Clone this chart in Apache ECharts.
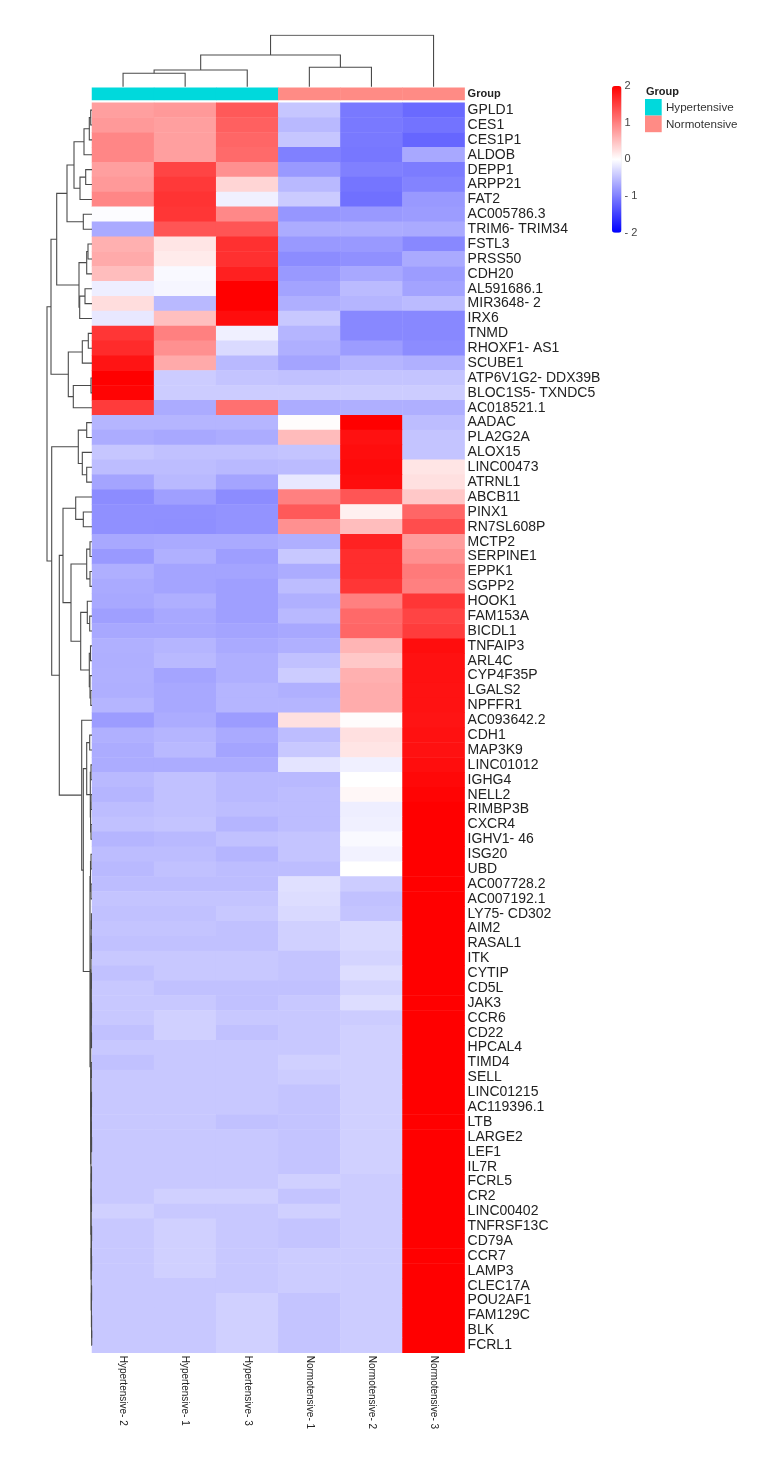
<!DOCTYPE html>
<html>
<head>
<meta charset="utf-8">
<title>Heatmap</title>
<style>
  html, body { margin: 0; padding: 0; background: #fff; }
  #chart { width: 775px; height: 1464px; }
</style>
<script src="https://cdn.jsdelivr.net/npm/echarts@6/dist/echarts.min.js"></script>
</head>
<body>
<div id="chart"></div>
<script>
const sampleLabels = ['Hypertensive- 2', 'Hypertensive- 1', 'Hypertensive- 3', 'Normotensive- 1', 'Normotensive- 2', 'Normotensive- 3']
const sampleGroups = [0, 0, 0, 1, 1, 1]
const groupNames = ['Hypertensive', 'Normotensive']
const groupColors = ['#00d9dc', '#ff8b85']
const scaleTicks = [-2, -1, 0, 1, 2]

const geneLabels = [
    'GPLD1', 'CES1', 'CES1P1', 'ALDOB', 'DEPP1', 'ARPP21', 'FAT2', 'AC005786.3', 'TRIM6- TRIM34', 'FSTL3',
    'PRSS50', 'CDH20', 'AL591686.1', 'MIR3648- 2', 'IRX6', 'TNMD', 'RHOXF1- AS1', 'SCUBE1', 'ATP6V1G2- DDX39B', 'BLOC1S5- TXNDC5',
    'AC018521.1', 'AADAC', 'PLA2G2A', 'ALOX15', 'LINC00473', 'ATRNL1', 'ABCB11', 'PINX1', 'RN7SL608P', 'MCTP2',
    'SERPINE1', 'EPPK1', 'SGPP2', 'HOOK1', 'FAM153A', 'BICDL1', 'TNFAIP3', 'ARL4C', 'CYP4F35P', 'LGALS2',
    'NPFFR1', 'AC093642.2', 'CDH1', 'MAP3K9', 'LINC01012', 'IGHG4', 'NELL2', 'RIMBP3B', 'CXCR4', 'IGHV1- 46',
    'ISG20', 'UBD', 'AC007728.2', 'AC007192.1', 'LY75- CD302', 'AIM2', 'RASAL1', 'ITK', 'CYTIP', 'CD5L',
    'JAK3', 'CCR6', 'CD22', 'HPCAL4', 'TIMD4', 'SELL', 'LINC01215', 'AC119396.1', 'LTB', 'LARGE2',
    'LEF1', 'IL7R', 'FCRL5', 'CR2', 'LINC00402', 'TNFRSF13C', 'CD79A', 'CCR7', 'LAMP3', 'CLEC17A',
    'POU2AF1', 'FAM129C', 'BLK', 'FCRL1'
]

// one row per gene, columns in sampleLabels order
const geneValues = [
    [0.75, 0.8, 1.3, -0.45, -1.05, -1.17],
    [0.8, 0.75, 1.25, -0.55, -1.05, -1.1],
    [0.95, 0.75, 1.2, -0.45, -1.05, -1.2],
    [0.95, 0.75, 1.17, -1.0, -1.07, -0.68],
    [0.75, 1.47, 0.87, -0.8, -1.0, -1.03],
    [0.8, 1.55, 0.33, -0.55, -1.08, -0.97],
    [0.95, 1.6, -0.12, -0.41, -1.12, -0.8],
    [-0.02, 1.58, 0.93, -0.82, -0.8, -0.78],
    [-0.67, 1.33, 1.33, -0.65, -0.65, -0.67],
    [0.62, 0.2, 1.62, -0.8, -0.8, -0.93],
    [0.67, 0.16, 1.62, -0.9, -0.87, -0.67],
    [0.52, -0.05, 1.75, -0.8, -0.68, -0.78],
    [-0.13, -0.07, 2, -0.72, -0.53, -0.72],
    [0.27, -0.55, 2, -0.63, -0.58, -0.53],
    [-0.18, 0.5, 1.9, -0.43, -0.93, -0.93],
    [1.58, 1.0, -0.12, -0.58, -0.93, -0.93],
    [1.66, 0.87, -0.29, -0.63, -0.78, -0.9],
    [1.84, 0.67, -0.55, -0.71, -0.58, -0.62],
    [2, -0.4, -0.46, -0.49, -0.46, -0.46],
    [1.97, -0.4, -0.4, -0.4, -0.4, -0.4],
    [1.54, -0.66, 1.12, -0.65, -0.63, -0.63],
    [-0.58, -0.58, -0.58, 0.02, 2, -0.52],
    [-0.65, -0.68, -0.65, 0.53, 1.87, -0.46],
    [-0.45, -0.49, -0.49, -0.46, 1.9, -0.46],
    [-0.52, -0.52, -0.55, -0.53, 1.92, 0.2],
    [-0.71, -0.55, -0.71, -0.18, 1.9, 0.24],
    [-0.9, -0.75, -0.9, 1.0, 1.33, 0.43],
    [-0.87, -0.87, -0.85, 1.3, 0.12, 1.2],
    [-0.87, -0.88, -0.85, 0.87, 0.52, 1.4],
    [-0.68, -0.67, -0.67, -0.63, 1.73, 0.78],
    [-0.8, -0.62, -0.76, -0.43, 1.65, 0.87],
    [-0.63, -0.71, -0.71, -0.65, 1.65, 1.04],
    [-0.67, -0.71, -0.75, -0.52, 1.58, 1.0],
    [-0.68, -0.63, -0.75, -0.62, 1.0, 1.58],
    [-0.75, -0.68, -0.75, -0.55, 1.18, 1.47],
    [-0.68, -0.68, -0.71, -0.68, 1.2, 1.53],
    [-0.62, -0.58, -0.67, -0.62, 0.58, 1.9],
    [-0.63, -0.55, -0.63, -0.49, 0.43, 1.87],
    [-0.62, -0.71, -0.63, -0.4, 0.62, 1.87],
    [-0.63, -0.68, -0.58, -0.62, 0.65, 1.86],
    [-0.58, -0.68, -0.58, -0.58, 0.65, 1.86],
    [-0.78, -0.65, -0.78, 0.24, 0.02, 1.84],
    [-0.62, -0.58, -0.67, -0.52, 0.24, 1.87],
    [-0.65, -0.55, -0.71, -0.43, 0.2, 1.87],
    [-0.65, -0.65, -0.65, -0.21, -0.12, 1.9],
    [-0.55, -0.49, -0.55, -0.55, 0, 1.94],
    [-0.58, -0.49, -0.55, -0.52, 0.06, 1.97],
    [-0.52, -0.49, -0.52, -0.52, -0.13, 2],
    [-0.49, -0.46, -0.58, -0.52, -0.12, 2],
    [-0.58, -0.55, -0.49, -0.46, -0.05, 2],
    [-0.52, -0.52, -0.58, -0.46, -0.1, 2],
    [-0.55, -0.49, -0.52, -0.52, 0, 2],
    [-0.52, -0.52, -0.52, -0.24, -0.4, 2],
    [-0.46, -0.46, -0.46, -0.27, -0.49, 2],
    [-0.49, -0.49, -0.43, -0.3, -0.46, 2],
    [-0.46, -0.46, -0.49, -0.37, -0.3, 2],
    [-0.49, -0.49, -0.49, -0.37, -0.3, 2],
    [-0.43, -0.43, -0.43, -0.46, -0.34, 2],
    [-0.49, -0.43, -0.43, -0.46, -0.27, 2],
    [-0.43, -0.49, -0.49, -0.49, -0.34, 2],
    [-0.43, -0.43, -0.49, -0.43, -0.27, 2],
    [-0.43, -0.37, -0.43, -0.43, -0.4, 2],
    [-0.49, -0.37, -0.49, -0.43, -0.37, 2],
    [-0.43, -0.43, -0.43, -0.43, -0.37, 2],
    [-0.49, -0.43, -0.43, -0.37, -0.37, 2],
    [-0.43, -0.43, -0.43, -0.4, -0.37, 2],
    [-0.43, -0.43, -0.43, -0.46, -0.37, 2],
    [-0.43, -0.43, -0.43, -0.46, -0.37, 2],
    [-0.43, -0.43, -0.49, -0.46, -0.37, 2],
    [-0.43, -0.43, -0.43, -0.46, -0.37, 2],
    [-0.43, -0.43, -0.43, -0.46, -0.37, 2],
    [-0.43, -0.43, -0.43, -0.46, -0.37, 2],
    [-0.43, -0.43, -0.43, -0.37, -0.4, 2],
    [-0.43, -0.37, -0.37, -0.46, -0.4, 2],
    [-0.37, -0.43, -0.43, -0.37, -0.4, 2],
    [-0.43, -0.37, -0.43, -0.46, -0.4, 2],
    [-0.43, -0.37, -0.43, -0.46, -0.4, 2],
    [-0.43, -0.37, -0.43, -0.4, -0.4, 2],
    [-0.43, -0.37, -0.43, -0.4, -0.4, 2],
    [-0.43, -0.43, -0.43, -0.4, -0.4, 2],
    [-0.43, -0.43, -0.37, -0.46, -0.4, 2],
    [-0.43, -0.43, -0.37, -0.46, -0.4, 2],
    [-0.43, -0.43, -0.37, -0.46, -0.4, 2],
    [-0.43, -0.43, -0.37, -0.46, -0.4, 2]
]

// dendrograms: [merge height, left, right], a plain number is a leaf index
const sampleTree = [51.4, [31.7, [16.7, [13.4, 0, 1], 2], [19.4, 3, 4]], 5]

const upperGeneTree = [41,
    [35.3,
        [25,
            [18, [8, [2.7, [1.3, 0, 1], 2], 3], [12, [6.3, 4, 5], 6]],
            [8.7, 7, 8]],
        [13, [5.3, [4, 9, 10], 11], [12.3, [7, 12, 13], 14]]],
    [23.7, [9.7, [3.7, 15, 16], 17], [18.7, [1, 18, 19], 20]]]

const lowerGeneTree = [40.3,
    [13.7, [5.3, 21, 22], [9.7, 23, [5.3, 24, 25]]],
    [32.7,
        [29,
            [16.3, 26, [8.7, 27, 28]],
            [21,
                [5.3, [2, 29, 30], [2, 31, 32]],
                [11.3, [4.7, 33, [2.3, 34, 35]], [2.7, [1.5, 36, 37], [2, 38, [1.2, 39, 40]]]]]],
        [10.3, 41,
            [8.7,
                [5.3, [2.3, 42, 43], [1.7, [1, 44, 45], [1.4, [1, 46, 47], [1, 48, 49]]]],
                [2,
                    [1.5, [1, 50, 51], [1, 52, 53]],
                    [1.3,
                        [1, [0.8, [0.6, 54, 55], [0.6, 56, 57]], [0.8, [0.6, 58, 59], [0.7, [0.5, 60, 61], [0.5, 62, 63]]]],
                        [1.1,
                            [0.9, [0.7, 64, 65], [0.7, [0.5, 66, 67], [0.6, 68, [0.4, 69, 70]]]],
                            [0.9,
                                [0.7, [0.5, 71, 72], [0.5, 73, 74]],
                                [0.8, [0.6, [0.4, 75, 76], [0.4, 77, 78]], [0.6, [0.4, 79, 80], [0.4, 81, [0.3, 82, 83]]]]]]]]]]]]

const geneTree = [45, upperGeneTree, lowerGeneTree]

// walk a tree and collect one bracket per merge, pos is the leaf's place on the axis
function treeBrackets(tree, toCoord) {
    const out = []
    function walk(node) {
        if (typeof node === 'number') return { pos: node + 0.5, h: 0 }
        const a = walk(node[1])
        const b = walk(node[2])
        out.push({
            coords: [toCoord(a.pos, a.h), toCoord(a.pos, node[0]), toCoord(b.pos, node[0]), toCoord(b.pos, b.h)]
        })
        return { pos: (a.pos + b.pos) / 2, h: node[0] }
    }
    walk(tree)
    return out
}

const heatData = []
geneValues.forEach((row, r) => row.forEach((v, c) => heatData.push([c, r, v])))
const groupData = sampleGroups.map((g, c) => [c, 0, g])

const labelFont = '"Liberation Sans", Arial, sans-serif'
const treeLine = { color: '#4a4a4a', width: 1.1, opacity: 1, curveness: 0 }
const hiddenValue = { type: 'value', show: false }

const chart = echarts.init(document.getElementById('chart'))
chart.setOption({
    animation: false,
    backgroundColor: '#fff',
    textStyle: { fontFamily: labelFont },
    grid: [
        { left: 92, top: 102.7, width: 372.6, height: 1250 },
        { left: 92, top: 87.7, width: 372.6, height: 12.3 },
        { left: 92, top: 35, width: 372.6, height: 51.7 },
        { left: 42, top: 102.7, width: 50, height: 1250 },
        { left: 612, top: 86, width: 9.5, height: 146.7 }
    ],
    xAxis: [
        {
            type: 'category', gridIndex: 0, data: sampleLabels,
            axisLine: { show: false }, axisTick: { show: false },
            axisLabel: { interval: 0, rotate: -90, margin: 3, fontSize: 10, color: '#222', fontFamily: labelFont }
        },
        { type: 'category', gridIndex: 1, data: sampleLabels, show: false },
        { ...hiddenValue, gridIndex: 2, min: 0, max: 6 },
        { ...hiddenValue, gridIndex: 3, min: 0, max: 50, inverse: true },
        { ...hiddenValue, gridIndex: 4, min: 0, max: 1 }
    ],
    yAxis: [
        {
            type: 'category', gridIndex: 0, data: geneLabels, inverse: true, position: 'right',
            axisLine: { show: false }, axisTick: { show: false },
            axisLabel: { interval: 0, margin: 3, fontSize: 14, color: '#222', fontFamily: labelFont }
        },
        {
            type: 'category', gridIndex: 1, data: ['Group'], position: 'right',
            axisLine: { show: false }, axisTick: { show: false },
            axisLabel: { margin: 3, fontSize: 11, fontWeight: 'bold', color: '#222', fontFamily: labelFont }
        },
        { ...hiddenValue, gridIndex: 2, min: 0, max: 51.7 },
        { ...hiddenValue, gridIndex: 3, min: 0, max: 84, inverse: true },
        {
            type: 'value', gridIndex: 4, position: 'right', min: -2, max: 2, interval: 1,
            axisLine: { show: false }, axisTick: { show: false }, splitLine: { show: false },
            axisLabel: {
                margin: 3, fontSize: 11, color: '#444', fontFamily: labelFont,
                formatter: v => (v < 0 ? '- ' + Math.abs(v) : String(v))
            }
        }
    ],
    visualMap: [
        {
            type: 'continuous', seriesIndex: 0, min: scaleTicks[0], max: scaleTicks[4],
            left: 612, top: 86, padding: 0, itemWidth: 9.5, itemHeight: 146.7,
            calculable: false, realtime: false, text: null, showLabel: false, silent: true,
            inRange: { color: ['#0000ff', '#ffffff', '#ff0000'] }
        },
        {
            type: 'piecewise', seriesIndex: 1, show: false, dimension: 2,
            pieces: groupColors.map((color, i) => ({ value: i, color }))
        }
    ],
    graphic: [
        { type: 'text', left: 646, top: 86, style: { text: 'Group', font: 'bold 11px ' + labelFont, fill: '#222' } },
        ...groupNames.flatMap((name, i) => [
            { type: 'rect', left: 645, top: 99 + i * 16.6, shape: { width: 16.7, height: 16.6 }, style: { fill: groupColors[i] } },
            { type: 'text', left: 666, top: 102 + i * 16.6, style: { text: name, font: '11.6px ' + labelFont, fill: '#333' } }
        ])
    ],
    series: [
        {
            type: 'heatmap', xAxisIndex: 0, yAxisIndex: 0, data: heatData,
            progressive: 0, silent: true, emphasis: { disabled: true }
        },
        {
            type: 'heatmap', xAxisIndex: 1, yAxisIndex: 1, data: groupData,
            silent: true, emphasis: { disabled: true }
        },
        {
            type: 'lines', coordinateSystem: 'cartesian2d', xAxisIndex: 2, yAxisIndex: 2, polyline: true,
            silent: true, lineStyle: treeLine, data: treeBrackets(sampleTree, (pos, h) => [pos, h])
        },
        {
            type: 'lines', coordinateSystem: 'cartesian2d', xAxisIndex: 3, yAxisIndex: 3, polyline: true,
            silent: true, lineStyle: treeLine, data: treeBrackets(geneTree, (pos, h) => [h, pos])
        }
    ]
})
</script>
</body>
</html>
